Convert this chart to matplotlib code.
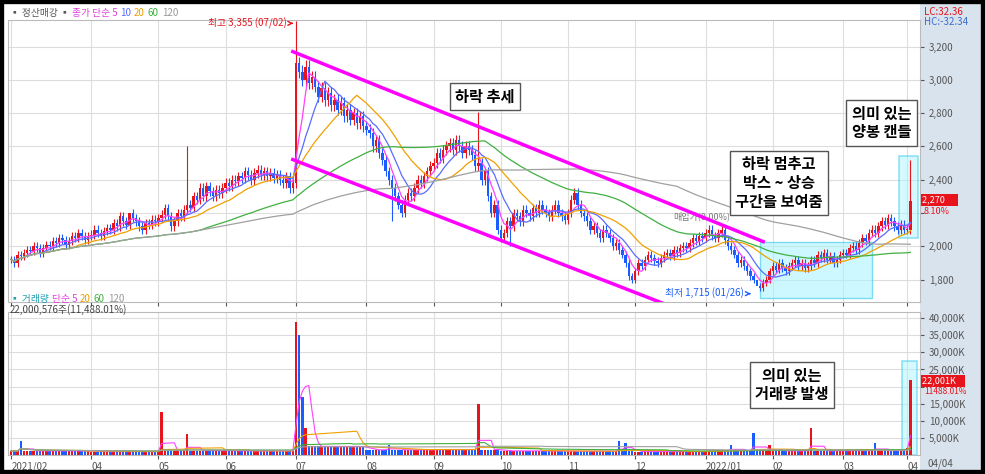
import matplotlib
matplotlib.use("Agg")
import matplotlib.pyplot as plt
import numpy as np
import pandas as pd
from matplotlib.patches import Rectangle

plt.rcParams['font.family'] = ['Noto Sans CJK KR', 'DejaVu Sans']

months = [
 [1920,1900,1950,1940,1960,1980,1970,2000,1990,1960,1990,2010,2000,2030,2020,2050,2040,2010,2030,2060,2050,2080,2060,2040,2060],
 [2070,2100,2080,2060,2090,2110,2100,2140,2120,2180,2150,2130,2200,2170,2150,2120,2100,2140,2130,2160,2150],
 [2170,2190,2230,2180,2120,2150,2200,2180,2220,2250,2230,2300,2280,2350,2300,2360,2330,2300,2340,2320,2350],
 [2380,2360,2400,2390,2420,2410,2450,2430,2400,2440,2460,2430,2450,2420,2440,2410,2430,2400,2380,2420,2350,2380],
 [3100,3050,3000,3080,2980,3020,2960,2900,2950,2880,2920,2850,2880,2820,2860,2780,2820,2760,2800,2740,2780,2720],
 [2700,2680,2600,2640,2560,2520,2450,2400,2350,2300,2250,2200,2280,2320,2300,2350,2400,2380,2420,2450,2480],
 [2500,2560,2530,2580,2600,2620,2580,2640,2600,2560,2600,2580,2550,2480,2500,2400,2450,2300,2200,2250,2100],
 [2050,2080,2150,2120,2200,2180,2150,2220,2200,2180,2230,2200,2250,2220,2200,2180,2220,2250,2200,2180,2160],
 [2200,2280,2320,2250,2200,2180,2150,2100,2120,2080,2050,2100,2080,2050,2000,2020,1980,1950,1900,1820,1800],
 [1850,1900,1880,1920,1950,1930,1910,1900,1930,1950,1960,1940,1980,1960,1990,2000,1990,2020,2050,2030,2060,2050],
 [2080,2100,2060,2050,2080,2100,2040,2000,1980,1950,1900,1920,1880,1850,1820,1800,1760,1750,1780,1800,1850],
 [1880,1860,1900,1870,1850,1880,1900,1920,1880,1900,1870,1880,1920,1900,1950,1930,1960,1920,1940,1900,1920,1950],
 [1960,1950,1990,2000,1980,2020,2050,2030,2080,2100,2080,2120,2150,2130,2170,2150,2120,2100,2130,2100],
 [2100,2270],
]
month_labels = ["2021/02","04","05","06","07","08","09","10","11","12","2022/01","02","03","04"]
month_vol_base = [1200,1000,1300,1200,2500,1500,1600,1200,1100,1000,1300,1200,1300,2000]
vol_spikes = {3:4000, 47:12500, 55:6000, 89:39000, 90:35000, 91:17000, 92:8000, 118:3000,
              146:15000, 190:4000, 192:3500, 225:3000, 232:6500, 237:3000, 250:8000, 270:3500, 281:22000}
special_high = {89:3355, 55:2600, 146:2810, 281:2520, 233:1715, 37:2200}
special_low = {233:1715, 156:2000, 119:2150}
upper_channel = ([88, 235], [3170, 2028])
lower_channel = ([88, 208], [2521, 1625])

close = np.array([v for m in months for v in m], float)
n = len(close)
opn = np.r_[close[0], close[:-1]]
hi = np.maximum(opn, close) * 1.012
lo = np.minimum(opn, close) * 0.988
for k, v in special_high.items(): hi[k] = v
for k, v in special_low.items(): lo[k] = v
starts = np.cumsum([0] + [len(m) for m in months[:-1]])
vol = np.concatenate([[month_vol_base[i]] * len(m) for i, m in enumerate(months)]).astype(float)
for k, v in vol_spikes.items(): vol[k] = v

W, H = 985, 474
fig = plt.figure(figsize=(W/100, H/100), dpi=100)
def ax_px(l, t, r, b, **kw):
    return fig.add_axes([l/W, 1-b/H, (r-l)/W, (b-t)/H], **kw)

bg = ax_px(920, 4, 981, 470, zorder=-10)
bg.set_facecolor('#d9e3ee'); bg.set_xticks([]); bg.set_yticks([])
for sp in bg.spines.values(): sp.set_visible(False)

ax = ax_px(8, 20, 920, 302)
axv = ax_px(8, 312, 920, 455)
up = '#e8141c'; dn = '#1a5cff'
x = np.arange(n)
for a in (ax, axv):
    a.set_xlim(-1, 284)
    a.set_xticks(starts)
    a.grid(True, color='#dddddd', lw=0.8)
    a.yaxis.tick_right()
    a.tick_params(labelsize=7, colors='#555555', length=3)
    for s in a.spines.values(): s.set_color('#bbbbbb')

colors = np.where(close >= opn, up, dn)
ax.vlines(x, lo, hi, colors=colors, lw=0.8, zorder=3)
ax.bar(x, np.maximum(np.abs(close-opn), 4), bottom=np.minimum(opn, close), color=colors, width=0.7, zorder=3)
s = pd.Series(close)
for w, c in [(5,'#ff40ff'),(10,'#5a6cff'),(20,'#f0a000'),(60,'#40b040'),(120,'#a0a0a0')]:
    ax.plot(x, s.rolling(w, min_periods=1).mean(), color=c, lw=0.9, zorder=4)
ax.set_ylim(1665, 3360)
pticks = [1800,2000,2200,2400,2600,2800,3000,3200]
ax.set_yticks(pticks)
ax.set_yticklabels(["" if v == 2200 else f"{v:,}" for v in pticks])
ax.set_xticklabels([])
ax.plot(*upper_channel, color='#ff00ff', lw=2.5, zorder=5)
ax.plot(*lower_channel, color='#ff00ff', lw=2.5, zorder=5)
ax.add_patch(Rectangle((234, 1692), 35, 336, fc='#aef4ff', ec='#30c8e8', alpha=0.6, lw=1, zorder=2))
ax.add_patch(Rectangle((277.5, 2050), 6, 490, fc='#aef4ff', ec='#30c8e8', alpha=0.5, lw=1.2, zorder=2))
box = dict(fc='white', ec='#555555', lw=1)
ax.text(148, 2900, "하락 추세", fontsize=11, fontweight='bold', ha='center', va='center', bbox=box, zorder=6)
ax.text(272, 2740, "의미 있는\n양봉 캔들", fontsize=11, fontweight='bold', ha='center', va='center', bbox=box, linespacing=1.2, zorder=6)
ax.text(240, 2380, "하락 멈추고\n박스 ~ 상승\n구간을 보여줌", fontsize=11, fontweight='bold', ha='center', va='center', bbox=box, linespacing=1.2, zorder=6)
ax.annotate("최고 3,355 (07/02)", xy=(89, 3340), xytext=(86, 3340), fontsize=7, color='#e8141c', ha='right', va='center',
            arrowprops=dict(arrowstyle='->', color='#e8141c'))
ax.annotate("최저 1,715 (01/26)", xy=(232, 1715), xytext=(229, 1715), fontsize=7, color='#1a5cff', ha='right', va='center',
            arrowprops=dict(arrowstyle='->', color='#1a5cff'))
ax.text(207, 2165, "매입가(0.00%)", fontsize=6.5, color='#777777')
fig.text(10/W, 1-13/H, "▪ 정산매강 ▪", fontsize=7, color='#555555', va='center')
fig.text(72/W, 1-13/H, "종가 단순 5", fontsize=7, color='#e040e0', va='center')
fig.text(120/W, 1-13/H, "10", fontsize=7, color='#5a6cff', va='center')
fig.text(134/W, 1-13/H, "20", fontsize=7, color='#f0a000', va='center')
fig.text(148/W, 1-13/H, "60", fontsize=7, color='#40b040', va='center')
fig.text(162/W, 1-13/H, "120", fontsize=7, color='#999999', va='center')
fig.text(924/W, 1-12/H, "LC:32.36", fontsize=7, color='#e8141c', va='center')
fig.text(924/W, 1-22/H, "HC:-32.34", fontsize=7, color='#3a6cd0', va='center')
fig.text(922/W, 1-200/H, "2,270      ", fontsize=6.5, color='white', va='center',
         bbox=dict(fc='#e8141c', ec='none', pad=0.8))
fig.text(924/W, 1-211/H, "8.10%", fontsize=6.5, color='#e8141c', va='center')

axv.bar(x, vol, color=colors, width=0.7, zorder=3)
vs = pd.Series(vol)
for w, c in [(5,'#ff40ff'),(20,'#f0a000'),(60,'#40b040'),(120,'#a0a0a0')]:
    axv.plot(x, vs.rolling(w, min_periods=1).mean(), color=c, lw=0.8, zorder=4)
axv.set_ylim(0, 41800)
vticks = [5000,10000,15000,20000,25000,30000,35000,40000]
axv.set_yticks(vticks)
axv.set_yticklabels(["" if v == 20000 else f"{v:,}K" for v in vticks])
axv.set_xticklabels(month_labels, ha='left')
axv.tick_params(axis='x', pad=2)
axv.add_patch(Rectangle((278.5, 0), 4.5, 27500, fc='#aef4ff', ec='#30c8e8', alpha=0.5, lw=1.2, zorder=2))
axv.text(244, 20500, "의미 있는\n거래량 발생", fontsize=11, fontweight='bold', ha='center', va='center', bbox=box, linespacing=1.2, zorder=6)
fig.text(10/W, 1-299/H, "▪ 거래량", fontsize=7, color='#20a0b0', va='center')
fig.text(52/W, 1-299/H, "단순 5", fontsize=7, color='#e040e0', va='center')
fig.text(80/W, 1-299/H, "20", fontsize=7, color='#f0a000', va='center')
fig.text(94/W, 1-299/H, "60", fontsize=7, color='#40b040', va='center')
fig.text(108/W, 1-299/H, "120", fontsize=7, color='#999999', va='center')
fig.text(10/W, 1-310/H, "22,000,576주(11,488.01%)", fontsize=7, color='#444444', va='center')
fig.text(922/W, 1-381/H, "22,001K    ", fontsize=6.5, color='white', va='center',
         bbox=dict(fc='#e8141c', ec='none', pad=0.8))
fig.text(924/W, 1-392/H, "11488.01%", fontsize=6, color='#e8141c', va='center')
fig.text(928/W, 1-464/H, "04/04", fontsize=7, color='#555555', va='center')
fig.patches.append(Rectangle((0, 0), 1, 1, transform=fig.transFigure, fill=False, ec='black', lw=6))
fig.savefig("out.png", dpi=100)
